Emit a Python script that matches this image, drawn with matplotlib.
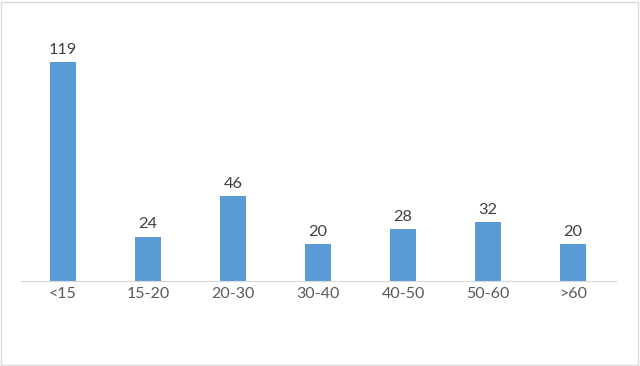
import matplotlib
matplotlib.use('Agg')
import matplotlib.pyplot as plt
from matplotlib.patches import Rectangle

categories = ['<15', '15-20', '20-30', '30-40', '40-50', '50-60', '>60']
values = [119, 24, 46, 20, 28, 32, 20]

plt.rcParams['font.family'] = ['Lato', 'DejaVu Sans']

fig = plt.figure(figsize=(6.4, 3.66), dpi=100)
ax = fig.add_axes([20.5/640, 85/366, 595/640, 239.2/366])

x = range(len(categories))
bars = ax.bar(x, values, width=0.31, color='#5B9BD5')
ax.set_xlim(-0.5, len(categories) - 0.5)
ax.set_ylim(0, 130)

for xi, v in zip(x, values):
    ax.text(xi, v + 3, str(v), ha='center', va='bottom', fontsize=11.8, color='#404040')

ax.set_xticks(list(x))
ax.set_xticklabels(categories, fontsize=11.5, color='#595959')
ax.tick_params(axis='x', length=0, pad=4)
ax.set_yticks([])
for s in ['top', 'left', 'right']:
    ax.spines[s].set_visible(False)
ax.spines['bottom'].set_color('#D9D9D9')

fig.patches.append(Rectangle((1/640, 1/366), 637/640, 363/366, transform=fig.transFigure,
                             fill=False, edgecolor='#D9D9D9', linewidth=1))

fig.savefig('out.png', dpi=100)
